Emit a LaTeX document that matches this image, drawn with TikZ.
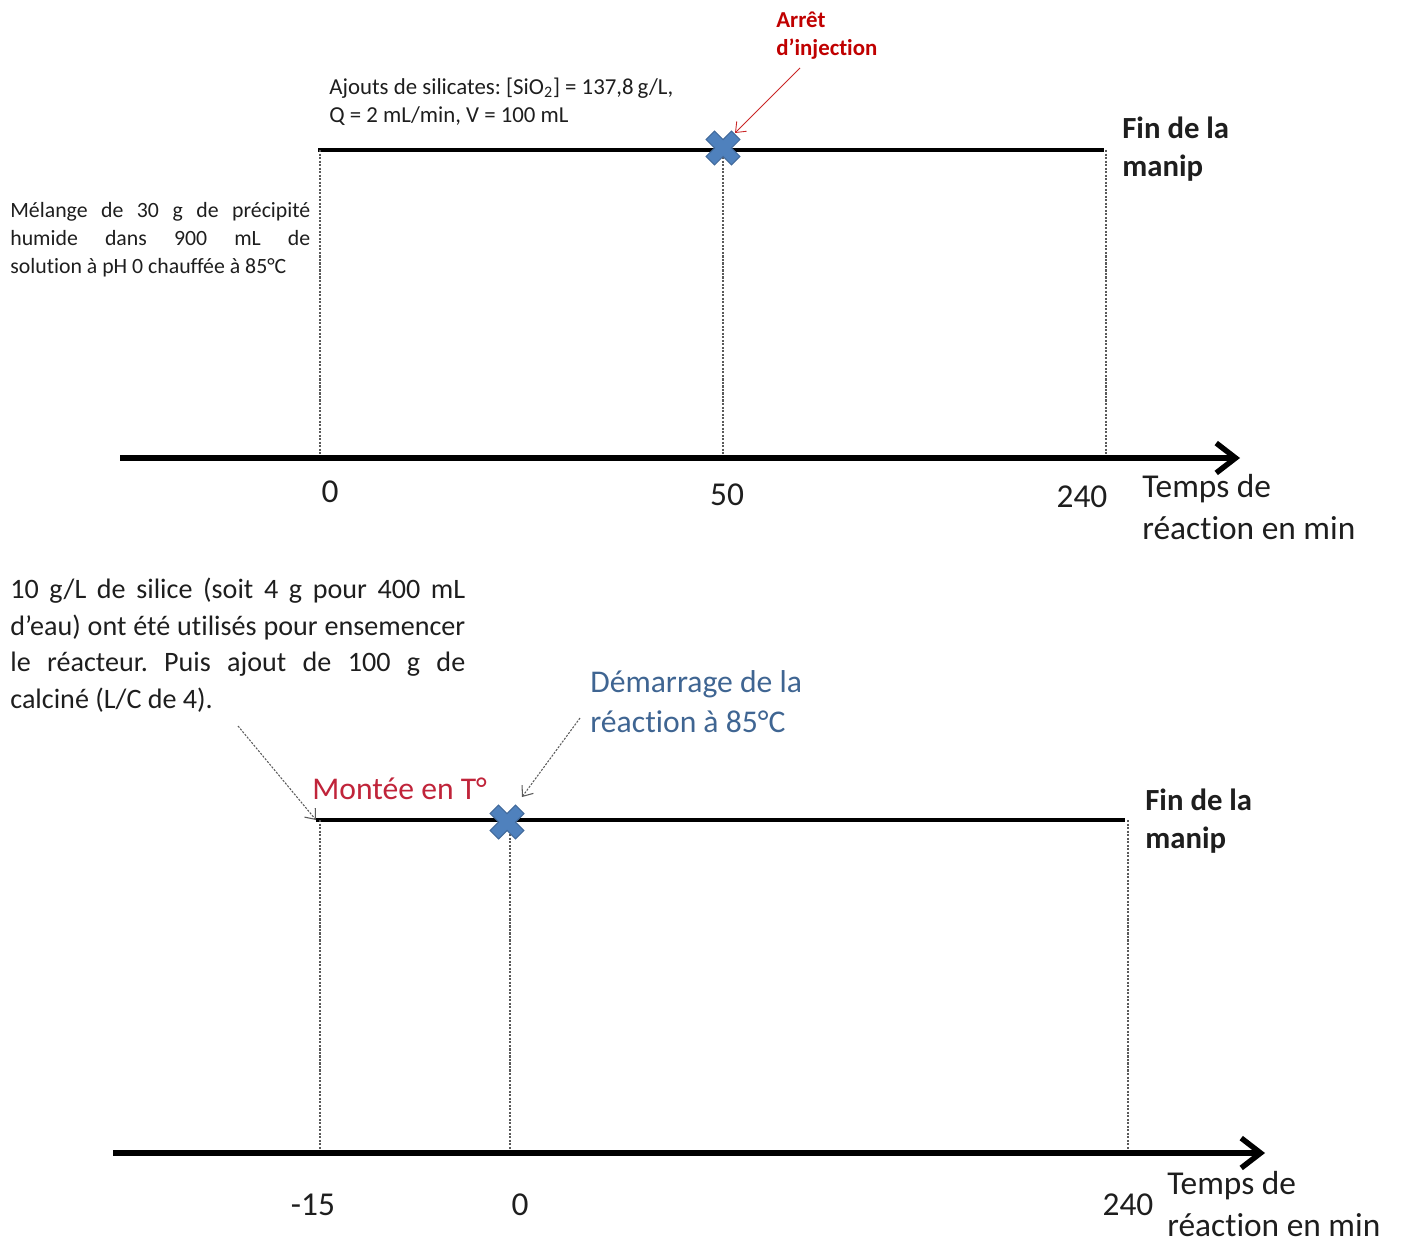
\documentclass[tikz,border=0pt]{standalone}
\usepackage{fontspec}
\setmainfont{Carlito}[Ligatures=NoCommon]
\usetikzlibrary{arrows.meta}
\definecolor{Ink}{HTML}{1E1E1E}
\definecolor{StopRed}{HTML}{C00000}
\definecolor{RampRed}{HTML}{C0243A}
\definecolor{StartBlue}{HTML}{3F6592}
\definecolor{MarkBlue}{HTML}{4F81BD}
\definecolor{MarkEdge}{HTML}{41699A}
\definecolor{Guide}{HTML}{5A5A5A}
\frenchspacing

\begin{document}
\begin{tikzpicture}[x=0.02cm,y=-0.02cm,text=Ink,
      note/.style={inner sep=0pt,anchor=west,align=left},
      small/.style={font=\fontsize{13}{16}\selectfont},
      para/.style={inner sep=0pt,anchor=west,align=justify},
      endnote/.style={note,font=\fontsize{17.5}{21.6}\selectfont\bfseries},
      ticklbl/.style={inner sep=0pt,font=\fontsize{19}{23}\selectfont},
      axislbl/.style={note,font=\fontsize{19}{23.9}\selectfont},
      phase/.style={line width=2.6pt},
      axis/.style={line width=3.1pt,-{Straight Barb[length=11pt,width=17pt]}},
      guide/.style={Guide,line width=0.6pt,dash pattern=on 1.2pt off 0.8pt},
      pointer/.style={-{Straight Barb[length=5pt,width=8pt]},line width=0.5pt},
      stopmark/.pic={\filldraw[fill=MarkBlue,draw=MarkEdge,line width=0.6pt,rotate=45]
        (6,-18) -- (6,-6) -- (18,-6) -- (18,6) -- (6,6) -- (6,18) -- (-6,18)
        -- (-6,6) -- (-18,6) -- (-18,-6) -- (-6,-6) -- (-6,-18) -- cycle;}]
    \useasboundingbox (0,0) rectangle (1408,1243);

    % top: injection run
    \node[note,small,text=StopRed,font=\fontsize{13}{16}\selectfont\bfseries]
      (stoplbl) at (776,36) {Arrêt\\d’injection};
    \node[note,small] (feedlbl) at (329,102)
      {Ajouts de silicates: [SiO\textsubscript{2}] = 137,8\,g/L,\\Q = 2 mL/min, V = 100 mL};
    \node[para,text width=6cm,font=\fontsize{12.4}{16}\selectfont] (mixlbl) at (10,240)
      {Mélange de 30 g de précipité\linebreak humide dans 900 mL de\linebreak
       solution à pH 0 chauffée à 85°C};
    \node[endnote] (end1) at (1122,149) {Fin de la\\manip};
    \coordinate (run1a) at (318,150);
    \coordinate (run1b) at (1104,150);
    \draw[phase] (run1a) -- (run1b);
    \foreach \n/\x in {a/320,b/723,c/1106}{%
      \coordinate (hi1\n) at (\x,150);
      \coordinate (lo1\n) at (\x,458);
      \draw[guide] (hi1\n) -- (lo1\n);
    }
    \coordinate (stop1) at (723,148);
    \pic at (stop1) {stopmark};
    \coordinate (stoptail) at (800,68);
    \coordinate (stophead) at (735,133);
    \draw[pointer,StopRed!85] (stoptail) -- (stophead);
    \coordinate (axis1a) at (120,458);
    \coordinate (axis1b) at (1240,458);
    \draw[axis] (axis1a) -- (axis1b);
    \foreach \n/\x/\y/\t in {a/330/492/0,b/727/495/50,c/1082/497/240}
      \node[ticklbl] (tick1\n) at (\x,\y) {\t};
    \node[axislbl] (time1) at (1142,507) {Temps de\\réaction en min};

    % bottom: seeded run
    \node[para,text width=9.1cm,font=\fontsize{16}{20.8}\selectfont] (seedlbl) at (10,645)
      {10 g/L de silice (soit 4 g pour 400 mL\linebreak d’eau) ont été utilisés pour ensemencer\linebreak
       le réacteur. Puis ajout de 100 g de\linebreak calciné (L/C de 4).};
    \node[note,text=StartBlue,font=\fontsize{18}{22.8}\selectfont] (startlbl) at (590,702)
      {Démarrage de la\\réaction à 85°C};
    \node[note,text=RampRed,font=\fontsize{18}{22}\selectfont] (ramplbl) at (312,789) {Montée en T°};
    \node[endnote] (end2) at (1145,821) {Fin de la\\manip};
    \coordinate (run2a) at (316,820);
    \coordinate (run2b) at (1125,820);
    \draw[phase] (run2a) -- (run2b);
    \foreach \n/\x in {a/320,b/510,c/1128}{%
      \coordinate (hi2\n) at (\x,820);
      \coordinate (lo2\n) at (\x,1153);
      \draw[guide] (hi2\n) -- (lo2\n);
    }
    \coordinate (stop2) at (507,822);
    \pic at (stop2) {stopmark};
    \coordinate (seedtail) at (238,726);
    \draw[pointer,guide,Guide] (seedtail) -- (run2a);
    \coordinate (starttail) at (580,718);
    \coordinate (starthead) at (522,797);
    \draw[pointer,guide,Guide] (starttail) -- (starthead);
    \coordinate (axis2a) at (113,1153);
    \coordinate (axis2b) at (1265,1153);
    \draw[axis] (axis2a) -- (axis2b);
    \foreach \n/\x/\t in {a/313/-15,b/520/0,c/1128/240}
      \node[ticklbl] (tick2\n) at (\x,1205) {\t};
    \node[axislbl] (time2) at (1167,1204) {Temps de\\réaction en min};
\end{tikzpicture}
\end{document}
